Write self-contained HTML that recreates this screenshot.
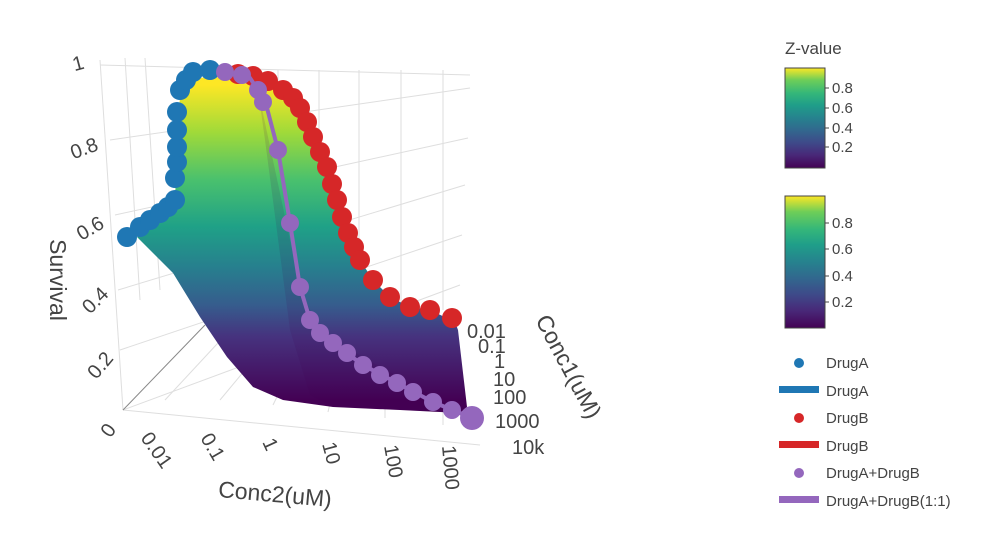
<!DOCTYPE html>
<html><head><meta charset="utf-8"><style>
body{margin:0;background:#fff;}
svg text{font-family:"Liberation Sans","DejaVu Sans",sans-serif;fill:#444;}
</style></head><body>
<svg width="1006" height="538" viewBox="0 0 1006 538" xmlns="http://www.w3.org/2000/svg">
<defs>
<linearGradient id="vir" x1="0" y1="1" x2="0" y2="0">
<stop offset="0" stop-color="#440154"/><stop offset="0.13" stop-color="#482878"/>
<stop offset="0.25" stop-color="#3e4989"/><stop offset="0.38" stop-color="#31688e"/>
<stop offset="0.5" stop-color="#26828e"/><stop offset="0.63" stop-color="#1f9e89"/>
<stop offset="0.75" stop-color="#35b779"/><stop offset="0.88" stop-color="#6ece58"/>
<stop offset="1" stop-color="#fde725"/></linearGradient>
<linearGradient id="surf" x1="0" y1="85" x2="0" y2="400" gradientUnits="userSpaceOnUse">
<stop offset="0" stop-color="#fde725"/><stop offset="0.15" stop-color="#a0da39"/>
<stop offset="0.3" stop-color="#4ac16d"/><stop offset="0.45" stop-color="#1fa187"/>
<stop offset="0.58" stop-color="#277f8e"/><stop offset="0.7" stop-color="#365c8d"/>
<stop offset="0.8" stop-color="#46327e"/><stop offset="1" stop-color="#440154"/></linearGradient>
</defs>
<g stroke="#dedede" stroke-width="1" fill="none">
<line x1="100" y1="60" x2="123" y2="410"/><line x1="125" y1="58" x2="140" y2="300"/><line x1="145" y1="58" x2="160" y2="290"/>
<line x1="278" y1="70" x2="278" y2="290"/><line x1="319" y1="70" x2="319" y2="300"/><line x1="359" y1="70" x2="359" y2="300"/>
<line x1="401" y1="70" x2="401" y2="305"/><line x1="443" y1="70" x2="443" y2="310"/>
<line x1="100" y1="65" x2="470" y2="75"/><line x1="110" y1="140" x2="470" y2="88"/><line x1="115" y1="215" x2="468" y2="138"/>
<line x1="118" y1="290" x2="465" y2="185"/><line x1="120" y1="350" x2="462" y2="235"/><line x1="123" y1="410" x2="460" y2="285"/>
<line x1="123" y1="410" x2="480" y2="445"/>
<line x1="165" y1="400" x2="230" y2="330"/><line x1="220" y1="400" x2="270" y2="340"/><line x1="273" y1="405" x2="300" y2="350"/>
<line x1="328" y1="412" x2="340" y2="360"/><line x1="385" y1="418" x2="385" y2="370"/><line x1="443" y1="425" x2="443" y2="380"/>
</g>
<line x1="123" y1="410" x2="205" y2="325" stroke="#888" stroke-width="1"/>
<path d="M137,237 L175,200 L177,147 L180,95 L193,78 L253,76 L283,92 L300,108 L313,137 L327,167 L337,200 L348,233 L360,260 L373,280 L390,297 L410,307 L430,310 L455,322 L458,330 L467,407 L460,413 L400,410 L333,407 L283,400 L253,387 L227,357 L200,317 L173,273 Z" fill="url(#surf)"/>
<path d="M258,90 L300,287 L320,333 L472,418 L460,413 L400,410 L333,407 L310,395 L290,330 L265,140 Z" fill="#440154" opacity="0.12"/>
<g fill="#d62728">
<circle cx="238" cy="74" r="10"/><circle cx="253" cy="76" r="10"/><circle cx="268" cy="81" r="10"/><circle cx="283" cy="90" r="10"/><circle cx="293" cy="98" r="10"/><circle cx="300" cy="108" r="10"/><circle cx="307" cy="122" r="10"/><circle cx="313" cy="137" r="10"/><circle cx="320" cy="152" r="10"/><circle cx="327" cy="167" r="10"/><circle cx="332" cy="184" r="10"/><circle cx="337" cy="200" r="10"/><circle cx="342" cy="217" r="10"/><circle cx="348" cy="233" r="10"/><circle cx="354" cy="247" r="10"/><circle cx="360" cy="260" r="10"/><circle cx="373" cy="280" r="10"/><circle cx="390" cy="297" r="10"/><circle cx="410" cy="307" r="10"/><circle cx="430" cy="310" r="10"/><circle cx="452" cy="318" r="10"/>
</g>
<g fill="#1f77b4">
<circle cx="127" cy="237" r="10"/><circle cx="140" cy="227" r="10"/><circle cx="150" cy="220" r="10"/><circle cx="160" cy="213" r="10"/><circle cx="168" cy="207" r="10"/><circle cx="175" cy="200" r="10"/><circle cx="175" cy="178" r="10"/><circle cx="177" cy="162" r="10"/><circle cx="177" cy="147" r="10"/><circle cx="177" cy="130" r="10"/><circle cx="177" cy="112" r="10"/><circle cx="180" cy="90" r="10"/><circle cx="186" cy="80" r="10"/><circle cx="193" cy="72" r="10"/><circle cx="210" cy="70" r="10"/>
</g>
<polyline points="225,72 250,78 258,90 267,108 278,150 290,223 300,287 310,320 333,343 363,365 397,383 433,402 472,418" fill="none" stroke="#9467bd" stroke-width="4"/>
<g fill="#9467bd">
<circle cx="225" cy="72" r="9"/><circle cx="242" cy="75" r="9"/><circle cx="258" cy="90" r="9"/><circle cx="263" cy="102" r="9"/><circle cx="278" cy="150" r="9"/><circle cx="290" cy="223" r="9"/><circle cx="300" cy="287" r="9"/><circle cx="310" cy="320" r="9"/><circle cx="320" cy="333" r="9"/><circle cx="333" cy="343" r="9"/><circle cx="347" cy="353" r="9"/><circle cx="363" cy="365" r="9"/><circle cx="380" cy="375" r="9"/><circle cx="397" cy="383" r="9"/><circle cx="413" cy="392" r="9"/><circle cx="433" cy="402" r="9"/><circle cx="452" cy="410" r="9"/><circle cx="472" cy="418" r="12"/>
</g>
<g font-size="20" text-anchor="middle">
<text x="78" y="70" transform="rotate(-15 78 63)">1</text>
<text x="84" y="155" transform="rotate(-20 84 148)">0.8</text>
<text x="90" y="235" transform="rotate(-30 90 228)">0.6</text>
<text x="95" y="307" transform="rotate(-45 95 300)">0.4</text>
<text x="100" y="372" transform="rotate(-50 100 365)">0.2</text>
<text x="108" y="437" transform="rotate(-55 108 430)">0</text>
</g>
<text x="50" y="280" font-size="23" text-anchor="middle" transform="rotate(90 50 280)">Survival</text>
<g font-size="20">
<text transform="translate(140,438) rotate(55)">0.01</text>
<text transform="translate(200,438) rotate(60)">0.1</text>
<text transform="translate(262,442) rotate(65)">1</text>
<text transform="translate(322,444) rotate(75)">10</text>
<text transform="translate(384,446) rotate(80)">100</text>
<text transform="translate(442,446) rotate(85)">1000</text>
</g>
<text x="275" y="502" font-size="23" text-anchor="middle" transform="rotate(5 275 495)">Conc2(uM)</text>
<g font-size="20">
<text x="467" y="338">0.01</text><text x="478" y="353">0.1</text><text x="494" y="368">1</text>
<text x="493" y="386">10</text><text x="493" y="404">100</text><text x="495" y="428">1000</text><text x="512" y="454">10k</text>
</g>
<text x="0" y="0" font-size="23" transform="translate(535,320) rotate(62)">Conc1(uM)</text>
<text x="785" y="54" font-size="17">Z-value</text>
<rect x="785" y="68" width="40" height="100" fill="url(#vir)" stroke="#444" stroke-width="1"/>
<rect x="785" y="196" width="40" height="132" fill="url(#vir)" stroke="#444" stroke-width="1"/>
<g font-size="15">
<text x="832" y="93">0.8</text><text x="832" y="113">0.6</text><text x="832" y="133">0.4</text><text x="832" y="152">0.2</text>
<text x="832" y="228">0.8</text><text x="832" y="254">0.6</text><text x="832" y="281">0.4</text><text x="832" y="307">0.2</text>
</g>
<g stroke="#444"><line x1="825" y1="88" x2="829" y2="88"/><line x1="825" y1="108" x2="829" y2="108"/><line x1="825" y1="128" x2="829" y2="128"/><line x1="825" y1="147" x2="829" y2="147"/>
<line x1="825" y1="223" x2="829" y2="223"/><line x1="825" y1="249" x2="829" y2="249"/><line x1="825" y1="276" x2="829" y2="276"/><line x1="825" y1="302" x2="829" y2="302"/></g>
<circle cx="799" cy="363" r="5" fill="#1f77b4"/>
<rect x="779" y="386" width="40" height="7" fill="#1f77b4"/>
<circle cx="799" cy="418" r="5" fill="#d62728"/>
<rect x="779" y="441" width="40" height="7" fill="#d62728"/>
<circle cx="799" cy="473" r="5" fill="#9467bd"/>
<rect x="779" y="496" width="40" height="7" fill="#9467bd"/>
<g font-size="15">
<text x="826" y="368">DrugA</text><text x="826" y="396">DrugA</text><text x="826" y="423">DrugB</text>
<text x="826" y="451">DrugB</text><text x="826" y="478">DrugA+DrugB</text><text x="826" y="506">DrugA+DrugB(1:1)</text>
</g>
</svg>
</body></html>
